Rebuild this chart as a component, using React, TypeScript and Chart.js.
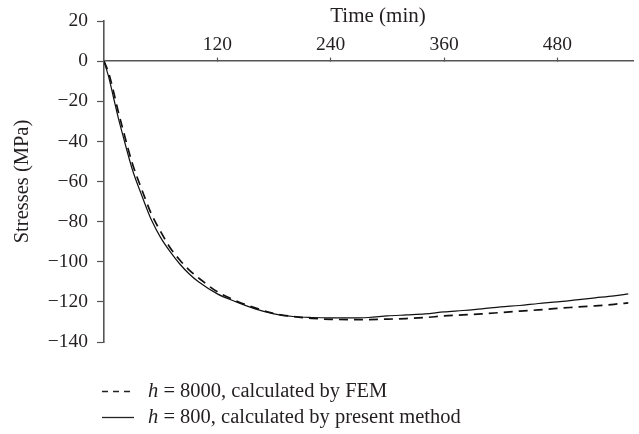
import React, { useEffect, useRef } from "react";
import { Chart, registerables } from "chart.js";

Chart.register(...registerables);

const times = [0, 5, 10, 15, 20, 30, 40, 50, 60, 70, 80, 90, 100, 120, 140, 160, 180, 200, 220, 240, 260, 280, 300, 320, 340, 360, 380, 400, 420, 440, 460, 480, 500, 520, 540, 555];

const presentMethod = [0, -8, -18, -28, -37, -54, -67, -79, -88, -95, -101, -106, -110, -116, -120, -123.5, -126, -127.3, -127.8, -128, -128, -127.8, -127, -126.5, -126, -125, -124.3, -123.5, -122.5, -121.8, -120.8, -120, -119, -118, -117, -116];

const fem = [0, -6, -15, -25, -34, -51, -64, -76, -85, -93, -99, -104, -108, -115, -119.5, -123, -125.8, -127.3, -128.2, -128.7, -128.8, -128.8, -128.6, -128.3, -127.8, -127, -126.5, -126, -125.3, -124.6, -124, -123.2, -122.6, -122, -121.2, -120.5];

const xTicks = [120, 240, 360, 480];
const yTicks = [20, 0, -20, -40, -60, -80, -100, -120, -140];

const xTitle = "Time (min)";
const yTitle = "Stresses (MPa)";
const legendItems = [
  { italic: "h", rest: " = 8000, calculated by FEM", dash: [6, 5] },
  { italic: "h", rest: " = 800, calculated by present method", dash: [] as number[] },
];

const FONT = "'Liberation Serif', 'Times New Roman', serif";
const TEXT = "#231f20";
const AXIS = "#555555";

const overlayPlugin = {
  id: "overlay",
  afterDraw(chart: any) {
    const ctx = chart.ctx;
    const area = chart.chartArea;
    ctx.save();
    ctx.fillStyle = TEXT;
    ctx.font = `21px ${FONT}`;
    ctx.textAlign = "center";
    ctx.textBaseline = "middle";
    ctx.fillText(xTitle, 378, 16);

    const lx = area.left - 2;
    let ly = 391;
    legendItems.forEach((it) => {
      ctx.beginPath();
      ctx.setLineDash(it.dash);
      ctx.strokeStyle = "#222";
      ctx.lineWidth = 1.3;
      ctx.moveTo(lx, ly + 0.5);
      ctx.lineTo(lx + 32, ly + 0.5);
      ctx.stroke();
      ctx.setLineDash([]);
      ctx.textAlign = "left";
      ctx.textBaseline = "middle";
      ctx.font = `italic 20.5px ${FONT}`;
      const tx = lx + 46;
      ctx.fillText(it.italic, tx, ly + 1);
      const w = ctx.measureText(it.italic).width;
      ctx.font = `20.5px ${FONT}`;
      ctx.fillText(it.rest, tx + w, ly + 1);
      ly += 26;
    });
    ctx.restore();
  },
};

export default function App() {
  const ref = useRef<HTMLCanvasElement>(null);
  useEffect(() => {
    if (!ref.current) return;
    const chart = new Chart(ref.current, {
      type: "line",
      data: {
        labels: times,
        datasets: [
          {
            label: "h = 8000, calculated by FEM",
            data: times.map((t, i) => ({ x: t, y: fem[i] })),
            borderColor: "#111",
            borderWidth: 1.7,
            borderDash: [9, 6],
            pointRadius: 0,
            cubicInterpolationMode: "monotone",
          },
          {
            label: "h = 800, calculated by present method",
            data: times.map((t, i) => ({ x: t, y: presentMethod[i] })),
            borderColor: "#111",
            borderWidth: 1.2,
            pointRadius: 0,
            cubicInterpolationMode: "monotone",
          },
        ],
      },
      options: {
        animation: false,
        responsive: false,
        maintainAspectRatio: false,
        layout: { padding: { left: 0, top: 21, right: 6, bottom: 92 } },
        plugins: { legend: { display: false }, tooltip: { enabled: false } },
        scales: {
          x: {
            type: "linear",
            position: { y: 0 } as any,
            min: 0,
            max: 560,
            afterBuildTicks: (s: any) => {
              s.ticks = xTicks.map((v) => ({ value: v }));
            },
            border: { display: true, color: AXIS, width: 1.6 },
            grid: { display: true, drawOnChartArea: false, drawTicks: true, tickLength: -4, tickColor: AXIS, tickWidth: 1.2 },
            ticks: {
              autoSkip: false,
              maxRotation: 0,
              padding: -24,
              color: TEXT,
              font: { family: FONT, size: 19.5 },
            },
          },
          y: {
            type: "linear",
            min: -140,
            max: 20,
            afterBuildTicks: (s: any) => {
              s.ticks = yTicks.map((v) => ({ value: v }));
            },
            afterFit: (s: any) => {
              s.width = 104;
            },
            border: { display: true, color: AXIS, width: 1.6 },
            grid: { display: true, drawOnChartArea: false, drawTicks: true, tickLength: 7, tickColor: AXIS, tickWidth: 1.2 },
            ticks: {
              padding: 9,
              color: TEXT,
              font: { family: FONT, size: 19.5 },
              callback: (v: any) => (Number(v) < 0 ? "\u2212" + Math.abs(Number(v)) : String(v)),
            },
            title: {
              display: true,
              text: yTitle,
              color: TEXT,
              font: { family: FONT, size: 20.5 },
              padding: { top: 10, bottom: 0 },
            },
          },
        },
      },
      plugins: [overlayPlugin],
    });
    return () => chart.destroy();
  }, []);
  return (
    <div style={{ position: "fixed", left: 0, top: 0, width: 639, height: 434, background: "#fff" }}>
      <canvas ref={ref} width={639} height={434} style={{ display: "block" }} />
    </div>
  );
}
